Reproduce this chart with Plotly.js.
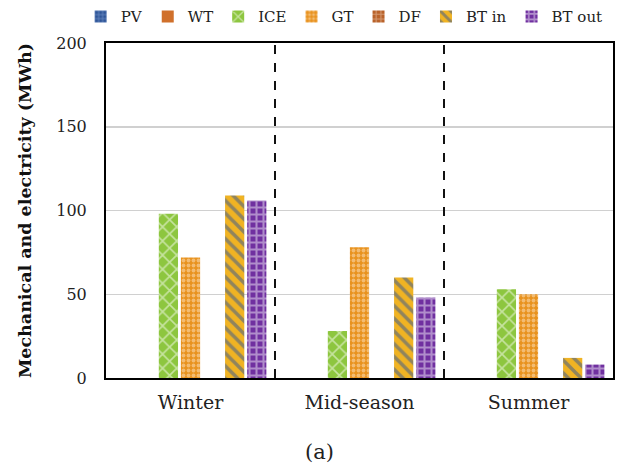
<!DOCTYPE html>
<html>
<head>
<meta charset="utf-8">
<script src="https://cdn.plot.ly/plotly-3.0.1.min.js"></script>
<style>html,body{margin:0;padding:0;background:#fff;}#chart{width:627px;height:466px;}</style>
</head>
<body>
<div id="chart"></div>
<script>
const categories = ["Winter", "Mid-season", "Summer"];
const seriesNames = ["PV", "WT", "ICE", "GT", "DF", "BT in", "BT out"];
const PV = [0, 0, 0];
const WT = [0, 0, 0];
const ICE = [98, 28, 53];
const GT = [72, 78, 50];
const DF = [0, 0, 0];
const BT_in = [109, 60, 12];
const BT_out = [106, 48, 8];
const yTicks = [0, 50, 100, 150, 200];

const values = [PV, WT, ICE, GT, DF, BT_in, BT_out];
const styles = [
  {bg: "#2f5597", fg: "#9ab8e6", shape: "+", size: 5, sol: 0.4},
  {bg: "#d0702b", fg: "#d0702b", shape: "", size: 6, sol: 0.4},
  {bg: "#8dc63f", fg: "#ffffff", shape: "x", size: 10, sol: 0.3},
  {bg: "#e8921e", fg: "#fde6c6", shape: ".", size: 5, sol: 0.45},
  {bg: "#b9622a", fg: "#f0d0b8", shape: "+", size: 6, sol: 0.4},
  {bg: "#f0b323", fg: "#2f5597", shape: "\\", size: 9, sol: 0.4},
  {bg: "#7030a0", fg: "#efeaf6", shape: "+", size: 7, sol: 0.5}
];
const serif = "DejaVu Serif, Liberation Serif, serif";

const traces = seriesNames.map((n, i) => ({
  type: "bar",
  name: n,
  x: categories,
  y: values[i],
  marker: {
    color: styles[i].bg,
    line: {width: 0},
    pattern: {shape: styles[i].shape, fgcolor: styles[i].fg, bgcolor: styles[i].bg, size: styles[i].size, solidity: styles[i].sol, fillmode: "overlay"}
  }
}));

const layout = {
  width: 627, height: 466,
  margin: {l: 106, r: 14, t: 43, b: 88, autoexpand: false},
  paper_bgcolor: "#fff", plot_bgcolor: "#fff",
  barmode: "group",
  bargap: 0.085,
  bargroupgap: 0.13,
  font: {family: serif, size: 17, color: "#222"},
  showlegend: true,
  legend: {orientation: "h", x: -0.05, xanchor: "left", y: 1.078, yanchor: "middle",
           font: {family: serif, size: 15, color: "#222"}, itemwidth: 30, tracegroupgap: 0},
  xaxis: {showline: true, linecolor: "#000", linewidth: 2, mirror: true, ticks: "", showgrid: false,
          automargin: false, ticklabelstandoff: 6, tickfont: {family: serif, size: 19, color: "#222"}},
  yaxis: {range: [0, 200], tickvals: yTicks, showline: true, linecolor: "#000", linewidth: 2, mirror: true,
          ticks: "", gridcolor: "#d0d0d0", gridwidth: 1.5, zeroline: false, automargin: false,
          ticklabelstandoff: 14, tickfont: {family: serif, size: 16, color: "#222"},
          title: {text: "<b>Mechanical and electricity (MWh)</b>", font: {family: serif, size: 17.5, color: "#111"}, standoff: 20}},
  shapes: [0.5, 1.5].map(xv => ({type: "line", xref: "x", yref: "paper", x0: xv, x1: xv, y0: 0, y1: 1,
          line: {color: "#111", width: 2, dash: "dash"}})),
  annotations: [{text: "(a)", xref: "paper", yref: "paper", x: 0.422, y: -0.221, yanchor: "middle", showarrow: false,
                 font: {family: serif, size: 21, color: "#222"}}]
};

Plotly.newPlot("chart", traces, layout, {displayModeBar: false, staticPlot: true});
</script>
</body>
</html>
